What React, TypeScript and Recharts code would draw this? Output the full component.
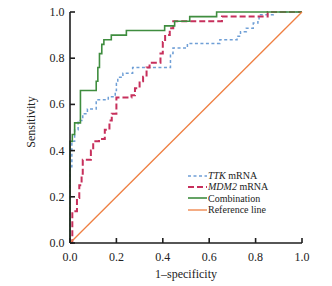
import { LineChart, Line, XAxis, YAxis } from 'recharts'

const FONT = '"Liberation Serif", "Times New Roman", serif'
const AXIS = '#1e1e1e'

const ticks = [0, 0.2, 0.4, 0.6, 0.8, 1.0]

// ROC points (1-specificity, sensitivity)
const ttkFpr = [0, 0, 0.008, 0.02, 0.035, 0.055, 0.075, 0.113, 0.165, 0.195, 0.2, 0.206, 0.228, 0.27, 0.433, 0.444, 0.506, 0.646, 0.72, 0.735, 0.76, 0.79, 0.81, 0.815, 0.876, 1]
const ttkTpr = [0, 0.33, 0.44, 0.49, 0.53, 0.56, 0.58, 0.62, 0.633, 0.66, 0.69, 0.717, 0.735, 0.76, 0.82, 0.844, 0.864, 0.88, 0.895, 0.915, 0.93, 0.952, 0.967, 0.988, 1, 1]

const mdm2Fpr = [0, 0.01, 0.03, 0.04, 0.05, 0.055, 0.09, 0.1, 0.125, 0.15, 0.17, 0.18, 0.2, 0.265, 0.28, 0.3, 0.315, 0.33, 0.343, 0.39, 0.4, 0.41, 0.43, 0.445, 0.655, 0.852, 1]
const mdm2Tpr = [0, 0.137, 0.195, 0.25, 0.3, 0.36, 0.4, 0.44, 0.45, 0.49, 0.53, 0.56, 0.63, 0.64, 0.67, 0.7, 0.72, 0.76, 0.78, 0.82, 0.87, 0.9, 0.93, 0.96, 0.98, 1, 1]

const comboFpr = [0, 0, 0.01, 0.02, 0.045, 0.113, 0.12, 0.127, 0.137, 0.146, 0.178, 0.243, 0.408, 0.451, 0.516, 0.632, 1]
const comboTpr = [0, 0.44, 0.47, 0.52, 0.66, 0.7, 0.76, 0.82, 0.86, 0.88, 0.9, 0.92, 0.94, 0.96, 0.98, 1, 1]

const refFpr = [0, 1]
const refTpr = [0, 1]

const toPoints = (fpr: number[], tpr: number[]) => fpr.map((x, i) => ({ x, y: tpr[i] }))

const series = [
  { key: 'ttk', gene: 'TTK', name: ' mRNA', color: '#6f9fd6', dash: '3 2.5', width: 1.5, type: 'stepAfter', pts: toPoints(ttkFpr, ttkTpr) },
  { key: 'mdm2', gene: 'MDM2', name: ' mRNA', color: '#c7305c', dash: '6 3', width: 2, type: 'stepAfter', pts: toPoints(mdm2Fpr, mdm2Tpr) },
  { key: 'combo', gene: '', name: 'Combination', color: '#3f8d3f', dash: undefined, width: 1.6, type: 'stepAfter', pts: toPoints(comboFpr, comboTpr) },
  { key: 'ref', gene: '', name: 'Reference line', color: '#ef7f42', dash: undefined, width: 1.3, type: 'linear', pts: toPoints(refFpr, refTpr) },
]

function XTick({ x, y, payload }: any) {
  return (
    <g>
      <line x1={x} x2={x} y1={y} y2={y - 5} stroke={AXIS} strokeWidth={1.6} />
      <text x={x} y={y + 17.5} textAnchor="middle" fontSize={12} fill="#222" fontFamily={FONT}>
        {payload.value.toFixed(1)}
      </text>
    </g>
  )
}

function YTick({ x, y, payload }: any) {
  return (
    <g>
      <line x1={x} x2={x + 5} y1={y} y2={y} stroke={AXIS} strokeWidth={1.6} />
      <text x={x - 5.5} y={y + 4} textAnchor="end" fontSize={12} fill="#222" fontFamily={FONT}>
        {payload.value.toFixed(1)}
      </text>
    </g>
  )
}

function ChartLegend() {
  return (
    <div style={{ position: 'absolute', left: 188, top: 170, fontFamily: FONT, fontSize: 10, color: '#222', lineHeight: '11.4px' }}>
      {series.map(s => (
        <div key={s.key} style={{ display: 'flex', alignItems: 'center', height: 11.4 }}>
          <svg width={19} height={6} style={{ marginRight: 1 }}>
            <line x1={0} x2={19} y1={3} y2={3} stroke={s.color} strokeWidth={s.width} strokeDasharray={s.dash} />
          </svg>
          <span>
            {s.gene && <i>{s.gene}</i>}
            {s.name}
          </span>
        </div>
      ))}
    </div>
  )
}

export default function App() {
  return (
    <div style={{ position: 'absolute', left: 0, top: 0, width: 332, height: 286, background: '#fff' }}>
      <LineChart width={332} height={286} margin={{ top: 12, right: 30, left: 0, bottom: 0 }}>
        <XAxis
          type="number"
          dataKey="x"
          domain={[0, 1]}
          ticks={ticks}
          tick={<XTick />}
          tickSize={0}
          tickMargin={0}
          tickLine={false}
          height={43}
          axisLine={{ stroke: AXIS, strokeWidth: 1.6 }}
          allowDuplicatedCategory={false}
          label={() => (
            <text x={186} y={277.5} textAnchor="middle" fontSize={12} fill="#222" fontFamily={FONT}>
              1–specificity
            </text>
          )}
        />
        <YAxis
          type="number"
          dataKey="y"
          domain={[0, 1]}
          ticks={ticks}
          tick={<YTick />}
          tickSize={0}
          tickMargin={0}
          tickLine={false}
          width={70}
          axisLine={{ stroke: AXIS, strokeWidth: 1.6 }}
          label={() => (
            <text x={31} y={122} transform="rotate(-90 31 122)" textAnchor="middle" dominantBaseline="central" fontSize={12} fill="#222" fontFamily={FONT}>
              Sensitivity
            </text>
          )}
        />
        {series.map(s => (
          <Line
            key={s.key}
            data={s.pts}
            dataKey="y"
            type={s.type as any}
            stroke={s.color}
            strokeWidth={s.width}
            strokeDasharray={s.dash}
            dot={false}
            activeDot={false}
            isAnimationActive={false}
          />
        ))}
      </LineChart>
      <ChartLegend />
    </div>
  )
}
